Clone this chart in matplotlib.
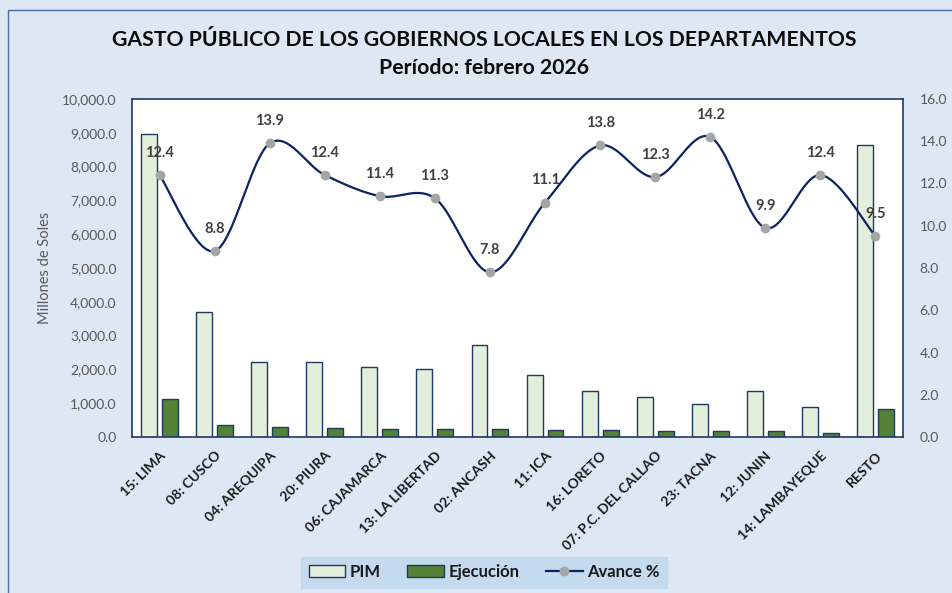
import matplotlib.pyplot as plt
import numpy as np
from matplotlib.patches import Rectangle
from matplotlib.ticker import FuncFormatter, MultipleLocator

departamentos = ["15: LIMA", "08: CUSCO", "04: AREQUIPA", "20: PIURA", "06: CAJAMARCA",
                 "13: LA LIBERTAD", "02: ANCASH", "11: ICA", "16: LORETO",
                 "07: P.C. DEL CALLAO", "23: TACNA", "12: JUNIN", "14: LAMBAYEQUE", "RESTO"]
pim = [8960, 3710, 2210, 2210, 2060, 2020, 2720, 1845, 1370, 1190, 975, 1370, 895, 8630]
ejecucion = [1115, 345, 305, 265, 245, 245, 240, 205, 205, 165, 165, 165, 120, 818]
avance = [12.4, 8.8, 13.9, 12.4, 11.4, 11.3, 7.8, 11.1, 13.8, 12.3, 14.2, 9.9, 12.4, 9.5]

BG = "#DDE8F4"
NAVY = "#1F3864"
LINE = "#0D2260"
PIM_C = "#E2EFDA"
EJE_C = "#548235"
GREY = "#595959"

plt.rcParams["font.family"] = ["Lato", "DejaVu Sans"]


def catmull_rom(xs, ys, sx, sy, n=40):
    # smooth curve through the points (like Excel's smoothed line), in pixel-like space
    p = np.column_stack([np.asarray(xs) * sx, np.asarray(ys) * sy])
    p = np.vstack([p[0], p, p[-1]])
    out = []
    for i in range(1, len(p) - 2):
        p0, p1, p2, p3 = p[i - 1], p[i], p[i + 1], p[i + 2]
        c1 = p1 + (p2 - p0) / 6
        c2 = p2 - (p3 - p1) / 6
        t = np.linspace(0, 1, n)[:, None]
        seg = (1 - t) ** 3 * p1 + 3 * (1 - t) ** 2 * t * c1 + 3 * (1 - t) * t ** 2 * c2 + t ** 3 * p2
        out.append(seg)
    out = np.vstack(out)
    return out[:, 0] / sx, out[:, 1] / sy


fig = plt.figure(figsize=(9.53, 5.93), dpi=100)
fig.patch.set_facecolor(BG)
fig.patches.append(Rectangle((8 / 953, -0.1), 1.2, 1 - 10 / 593 + 0.1, transform=fig.transFigure,
                             facecolor="none", edgecolor="#4A6FA5", linewidth=1.0))

ax = fig.add_axes([132 / 953, 1 - 437 / 593, 771 / 953, 338 / 593])
ax.set_facecolor("white")
x = np.arange(len(departamentos))
w = 0.29
ax.bar(x - 0.19, pim, w, color=PIM_C, edgecolor=NAVY, linewidth=1.0, label="PIM", zorder=2)
ax.bar(x + 0.19, ejecucion, w, color=EJE_C, edgecolor=NAVY, linewidth=1.0, label="Ejecución", zorder=2)
ax.set_xlim(-0.5, len(departamentos) - 0.5)
ax.set_ylim(0, 10000)
ax.yaxis.set_major_locator(MultipleLocator(1000))
ax.yaxis.set_major_formatter(FuncFormatter(lambda v, _: f"{v:,.1f}"))
ax.set_xticks(x)
ax.set_xticklabels(departamentos, rotation=45, ha="right", va="top", rotation_mode="anchor",
                   fontsize=10, fontweight="bold", color="#1A1A1A")
ax.tick_params(axis="x", length=0, pad=9)
ax.tick_params(axis="y", length=0, labelsize=10, labelcolor=GREY, pad=11)
for s in ax.spines.values():
    s.set_color(NAVY)
    s.set_linewidth(1.2)
ax.set_ylabel("Millones de Soles", fontsize=10.5, color=GREY)
ax.yaxis.set_label_coords(-0.104, 0.5)

ax2 = ax.twinx()
ax2.set_ylim(0, 16)
ax2.yaxis.set_major_locator(MultipleLocator(2))
ax2.yaxis.set_major_formatter(FuncFormatter(lambda v, _: f"{v:.1f}"))
ax2.tick_params(axis="y", length=0, labelsize=10, labelcolor=GREY, pad=12)
for s in ax2.spines.values():
    s.set_visible(False)
sx_, sy_ = 771 / 14, 338 / 16
cx, cy = catmull_rom(x, avance, sx_, sy_)
ax2.plot(cx, cy, color=LINE, linewidth=1.6, zorder=3)
ax2.plot(x, avance, linestyle="none", marker="o", markersize=6, color="#A5A5A5", zorder=4)
for xi, v in zip(x, avance):
    ax2.annotate(f"{v:.1f}", (xi, v), xytext=(0, 11), textcoords="offset points",
                 ha="center", va="bottom", fontsize=10.5, fontweight="bold", color="#404040", zorder=5)
ax2.plot([], [], color=LINE, linewidth=1.6, marker="o", markersize=6, markerfacecolor="#A5A5A5",
         markeredgecolor="#A5A5A5", label="Avance %")

fig.text(484 / 953, 1 - 40 / 593, "GASTO PÚBLICO DE LOS GOBIERNOS LOCALES EN LOS DEPARTAMENTOS",
         ha="center", va="center", fontsize=15.3, fontweight="bold", color="#0D0D0D")
fig.text(484 / 953, 1 - 68 / 593, "Período: febrero 2026",
         ha="center", va="center", fontsize=15.3, fontweight="bold", color="#0D0D0D")

h1, l1 = ax.get_legend_handles_labels()
h2, l2 = ax2.get_legend_handles_labels()
leg = fig.legend(h1 + h2, l1 + l2, loc="center", bbox_to_anchor=(484 / 953, 1 - 572 / 593),
                 ncol=3, frameon=True, fontsize=12, handlelength=2.2, handleheight=0.75,
                 columnspacing=1.6, handletextpad=0.25, borderpad=0.45, borderaxespad=0)
leg.get_frame().set_facecolor("#BDD7EE")
leg.get_frame().set_edgecolor("#BDD7EE")
leg.get_frame().set_boxstyle("square", pad=0)
for t in leg.get_texts():
    t.set_fontweight("bold")
    t.set_color("#1A1A1A")

fig.savefig("out.png", dpi=100, facecolor=BG)
